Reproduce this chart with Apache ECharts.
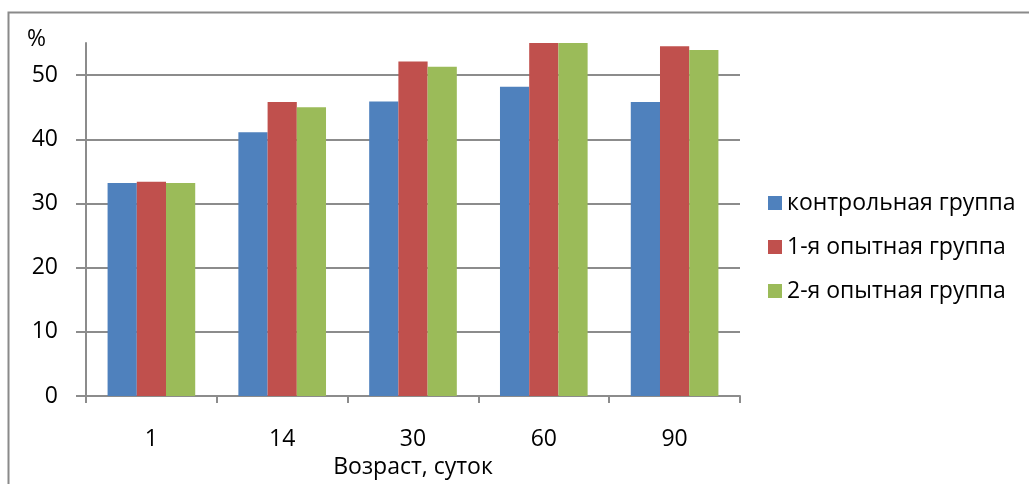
<!DOCTYPE html>
<html>
<head>
<meta charset="utf-8">
<script src="https://cdn.jsdelivr.net/npm/echarts@6/dist/echarts.min.js"></script>
<style>
  html, body { margin: 0; padding: 0; background: #fff; }
  #chart { width: 1029px; height: 484px; }
</style>
</head>
<body>
<div id="chart"></div>
<script>
const categories = ['1', '14', '30', '60', '90'];
const seriesNames = ['контрольная группа', '1-я опытная группа', '2-я опытная группа'];
const controlGroup = [33.2, 41.1, 45.9, 48.2, 45.8];
const exp1Group = [33.4, 45.8, 52.1, 55, 54.5];
const exp2Group = [33.2, 45.0, 51.3, 55, 53.9];
const yTickValues = [0, 10, 20, 30, 40, 50];
const xAxisTitle = 'Возраст, суток';
const yAxisTitle = '%';

const FONT = 'Open Sans';
const GRAY = '#8c8c8c';
const colors = ['#4F81BD', '#C0504D', '#9BBB59'];

const chart = echarts.init(document.getElementById('chart'), null, { renderer: 'canvas' });
const values = [controlGroup, exp1Group, exp2Group];

chart.setOption({
  animation: false,
  backgroundColor: '#ffffff',
  textStyle: { fontFamily: FONT },
  graphic: [
    {
      type: 'rect',
      shape: { x: 8.5, y: 12.5, width: 1200, height: 700 },
      style: { fill: 'none', stroke: '#8a8a8a', lineWidth: 2 },
      silent: true,
      z: 0
    },
    {
      type: 'text',
      left: 27,
      top: 28,
      style: { text: yAxisTitle, fontSize: 23, fontFamily: FONT, fill: '#000' },
      silent: true
    }
  ],
  grid: { left: 86, right: 289, top: 43, bottom: 80, containLabel: false },
  legend: {
    orient: 'vertical',
    left: 768,
    top: 189,
    padding: 0,
    itemWidth: 14,
    itemHeight: 14,
    itemGap: 16,
    icon: 'rect',
    textStyle: { fontSize: 23, fontFamily: FONT, color: '#000', lineHeight: 28 },
    data: seriesNames
  },
  xAxis: {
    type: 'category',
    data: categories,
    name: xAxisTitle,
    nameLocation: 'middle',
    nameGap: 58,
    nameTextStyle: { fontSize: 23, fontFamily: FONT, color: '#000' },
    axisLine: { lineStyle: { color: GRAY, width: 2 } },
    axisTick: { show: true, alignWithLabel: false, length: 7, lineStyle: { color: GRAY, width: 2 } },
    axisLabel: { fontSize: 23, fontFamily: FONT, color: '#000', margin: 32 },
    splitLine: { show: false }
  },
  yAxis: {
    type: 'value',
    min: 0,
    max: 55,
    interval: 10,
    axisLine: { show: true, lineStyle: { color: GRAY, width: 2 } },
    axisTick: { show: true, length: 10, lineStyle: { color: GRAY, width: 2 }, customValues: yTickValues },
    axisLabel: { fontSize: 23, fontFamily: FONT, color: '#000', margin: 28, customValues: yTickValues },
    splitLine: { show: true, lineStyle: { color: GRAY, width: 2 } }
  },
  series: seriesNames.map((name, i) => ({
    name: name,
    type: 'bar',
    data: values[i],
    barGap: '0%',
    barCategoryGap: '33%',
    itemStyle: { color: colors[i] }
  }))
});
</script>
</body>
</html>
